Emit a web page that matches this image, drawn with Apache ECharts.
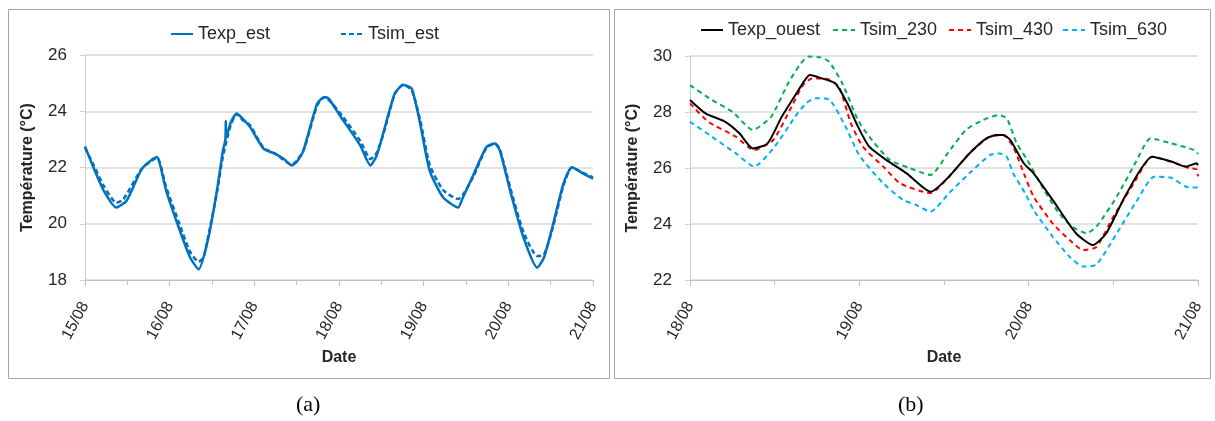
<!DOCTYPE html>
<html><head><meta charset="utf-8">
<script src="https://cdn.jsdelivr.net/npm/echarts@6/dist/echarts.min.js"></script>
<style>html,body{margin:0;padding:0;background:#fff}#c{width:1215px;height:421px}</style>
</head><body><div id="c"></div>
<script>
// ---- Chart (a) data: hours since 15/08 00:00 ----
const dateLabelsA = ['15/08','16/08','17/08','18/08','19/08','20/08','21/08'];
const texpEstHours = [0,2.4,5.3,8.9,11.8,16.1,19.2,20.4,23.0,26.9,29.8,32.2,35.0,37.4,39.1,39.8,39.9,40.0,41.3,43.0,44.6,46.8,50.6,53.8,56.4,58.6,60.0,61.9,65.8,67.9,69.1,72.2,78.0,80.9,82.6,84.5,87.8,90.2,92.6,95.0,97.7,101.5,105.8,107.0,110.2,113.8,116.2,117.6,120.5,124.3,128.2,130.1,132.7,135.6,138.0,141.4,144];
const texpEst = [22.75,22.0,21.18,20.58,20.82,21.95,22.3,22.37,21.18,19.75,18.8,18.38,19.51,21.18,22.6,23.0,23.65,23.05,23.6,23.92,23.75,23.44,22.67,22.49,22.3,22.07,22.2,22.6,24.27,24.51,24.45,23.86,22.79,22.07,22.4,23.2,24.63,24.93,24.81,23.56,21.89,20.94,20.58,20.9,21.77,22.73,22.85,22.6,21.18,19.51,18.44,18.8,19.99,21.42,22.01,21.77,21.6];
const tsimEstHours = [0,2.4,5.3,8.9,10.8,16.1,20.4,23.0,26.9,29.8,32.2,33.6,35.0,37.4,39.1,41.3,43.0,44.6,46.8,50.6,53.8,58.6,61.9,65.8,67.9,72.2,78.0,80.9,82.6,84.5,87.8,90.2,92.6,95.0,97.7,101.5,105.8,107.0,110.2,113.8,116.2,117.6,120.5,124.3,128.2,130.1,132.7,135.6,138.0,141.4,144];
const tsimEst = [22.7,22.1,21.35,20.75,20.85,21.95,22.35,21.3,19.95,19.0,18.65,18.8,19.6,21.1,22.4,23.5,23.9,23.7,23.5,22.7,22.5,22.1,22.6,24.2,24.5,23.95,22.95,22.3,22.5,23.15,24.6,24.95,24.75,23.7,22.1,21.2,20.88,21.0,21.7,22.7,22.85,22.65,21.3,19.7,18.85,18.9,19.9,21.35,22.0,21.8,21.65];

// ---- Chart (b) data: hours since 18/08 00:00 ----
const dateLabelsB = ['18/08','19/08','20/08','21/08'];
const texpOuestHours = [0,2.2,5.0,7.0,8.9,11.0,13.0,15.4,16.3,17.0,18.7,20.6,22.3,23.8,25.4,27.8,30.7,34.1,36.7,39.6,42.0,43.5,44.4,45.4,47.3,48.7,51.4,54.7,57.1,59.0,61.9,65.5,68.2,70.3,71.8,72];
const texpOuest = [28.43,27.95,27.65,27.24,26.7,26.88,27.83,28.79,29.15,29.32,29.2,29.02,28.31,27.48,26.76,26.29,25.81,25.15,25.69,26.52,27.06,27.18,27.18,27.0,26.17,25.81,24.86,23.67,23.25,23.67,25.1,26.4,26.23,26.05,26.17,26.1];
const tsim230Hours = [0,3.1,6.0,8.9,11.5,13.9,15.6,16.8,18.5,19.7,21.6,23.8,25.4,28.3,31.2,34.1,36.5,39.1,41.5,43.7,44.9,46.3,47.8,50.2,52.3,54.2,56.2,57.6,60.5,63.1,65.3,68.2,71.5,72];
const tsim230 = [28.96,28.43,28.01,27.36,27.83,29.02,29.7,29.98,29.95,29.8,29.02,27.71,27.12,26.29,25.99,25.75,26.52,27.36,27.71,27.89,27.77,26.88,26.29,25.21,24.38,23.9,23.67,23.9,24.98,26.17,27.06,26.88,26.64,26.5];
const tsim430Hours = [0,2.6,6.5,9.1,11.8,14.4,16.0,17.3,19.2,21.1,22.8,24.5,27.4,29.8,34.1,36.7,39.6,42.5,44.4,45.8,47.5,48.7,51.4,53.8,55.7,57.6,60.0,62.9,65.5,68.2,70.8,71.8,72];
const tsim430 = [28.31,27.65,27.12,26.64,27.0,28.19,28.95,29.2,29.2,28.9,27.6,26.76,26.05,25.45,25.1,25.69,26.52,27.12,27.18,26.76,25.69,24.98,24.02,23.43,23.07,23.18,24.26,25.45,26.4,26.23,25.99,25.95,25.7];
const tsim630Hours = [0,3.1,6.5,9.1,12.0,14.9,16.4,17.8,19.7,22.0,24.0,27.4,30.2,31.9,34.1,36.7,39.6,42.5,43.9,44.9,45.8,47.5,48.7,51.4,53.8,55.7,57.6,60.5,63.4,65.8,68.2,70.3,72];
const tsim630 = [27.65,27.12,26.52,26.05,26.76,27.83,28.3,28.49,28.45,27.5,26.45,25.45,24.86,24.7,24.44,25.1,25.81,26.46,26.52,26.4,25.81,25.1,24.5,23.55,22.83,22.48,22.55,23.67,24.86,25.69,25.65,25.33,25.3];

const pairs = (xs, ys) => xs.map((x, i) => [x, ys[i]]);
const FONT = '"Liberation Sans", Arial, sans-serif';
const TXT = '#262626';

function xAxisFor(gridIndex, maxH, labels) {
  return {
    type: 'value', gridIndex, min: 0, max: maxH, interval: 24,
    name: 'Date', nameLocation: 'middle', nameGap: 70,
    nameTextStyle: {fontFamily: FONT, fontSize: 16, fontWeight: 'bold', color: TXT},
    axisLine: {show: true, lineStyle: {color: '#bfbfbf', width: 1}},
    axisTick: {show: true, length: 6, lineStyle: {color: '#bfbfbf'}},
    minorTick: {show: true, splitNumber: 2, length: 5, lineStyle: {color: '#bfbfbf'}},
    splitLine: {show: false},
    axisLabel: {rotate: 62, fontFamily: FONT, fontSize: 16, color: TXT, margin: 23,
      formatter: v => labels[Math.round(v / 24)] || ''}
  };
}
function yAxisFor(gridIndex, min, max) {
  return {
    type: 'value', gridIndex, min, max, interval: 2,
    name: 'Température (°C)', nameLocation: 'middle', nameGap: 49,
    nameTextStyle: {fontFamily: FONT, fontSize: 16, fontWeight: 'bold', color: TXT},
    axisLine: {show: true, lineStyle: {color: '#d0d0d0', width: 1}},
    axisTick: {show: true, length: 5, lineStyle: {color: '#d0d0d0'}},
    splitLine: {show: true, lineStyle: {color: '#d9d9d9', width: 1.5}},
    axisLabel: {fontFamily: FONT, fontSize: 17, color: TXT, margin: 18}
  };
}
function lineSeries(name, data, xi, color, type, width) {
  return {name, type: 'line', xAxisIndex: xi, yAxisIndex: xi, data, showSymbol: false, symbol: 'none',
    smooth: 0.2, animation: false, lineStyle: {color, width, type}, itemStyle: {color}};
}
function legendAt(name, left, top) {
  return {data: [name], left, top, itemWidth: 22, itemHeight: 12, itemGap: 4,
    itemStyle: {opacity: 0},
    textStyle: {fontFamily: FONT, fontSize: 18, color: TXT}, selectedMode: false};
}

const chart = echarts.init(document.getElementById('c'), null, {renderer: 'canvas'});
chart.setOption({
  backgroundColor: '#fff',
  animation: false,
  grid: [
    {left: 85, right: 1215 - 593, top: 55, bottom: 421 - 280},
    {left: 690, right: 1215 - 1198, top: 56, bottom: 421 - 280}
  ],
  xAxis: [xAxisFor(0, 144, dateLabelsA), xAxisFor(1, 72, dateLabelsB)],
  yAxis: [yAxisFor(0, 18, 26), yAxisFor(1, 22, 30)],
  legend: [
    legendAt('Texp_est', 165, 20), legendAt('Tsim_est', 335, 20),
    legendAt('Texp_ouest', 695, 16), legendAt('Tsim_230', 827, 16),
    legendAt('Tsim_430', 943, 16), legendAt('Tsim_630', 1057, 16)
  ],
  series: [
    lineSeries('Tsim_est', pairs(tsimEstHours, tsimEst), 0, '#0070C0', [5, 3], 2.5),
    lineSeries('Texp_est', pairs(texpEstHours, texpEst), 0, '#0070C0', 'solid', 2.5),
    lineSeries('Tsim_230', pairs(tsim230Hours, tsim230), 1, '#00B050', [5, 4], 2),
    lineSeries('Tsim_630', pairs(tsim630Hours, tsim630), 1, '#00B0F0', [5, 4], 2),
    lineSeries('Tsim_430', pairs(tsim430Hours, tsim430), 1, '#FF0000', [5, 4], 2),
    lineSeries('Texp_ouest', pairs(texpOuestHours, texpOuest), 1, '#000000', 'solid', 2)
  ],
  graphic: [
    {type: 'rect', shape: {x: 8.5, y: 9.5, width: 601, height: 369}, style: {fill: 'none', stroke: '#a6a6a6', lineWidth: 1}, silent: true},
    {type: 'rect', shape: {x: 614.5, y: 9.5, width: 596, height: 369}, style: {fill: 'none', stroke: '#a6a6a6', lineWidth: 1}, silent: true},
    {type: 'text', left: 296, top: 394, style: {text: '(a)', font: '22px "Liberation Serif", "Times New Roman", serif', fill: '#000'}},
    {type: 'text', left: 898, top: 394, style: {text: '(b)', font: '22px "Liberation Serif", "Times New Roman", serif', fill: '#000'}}
  ]
});
</script></body></html>
